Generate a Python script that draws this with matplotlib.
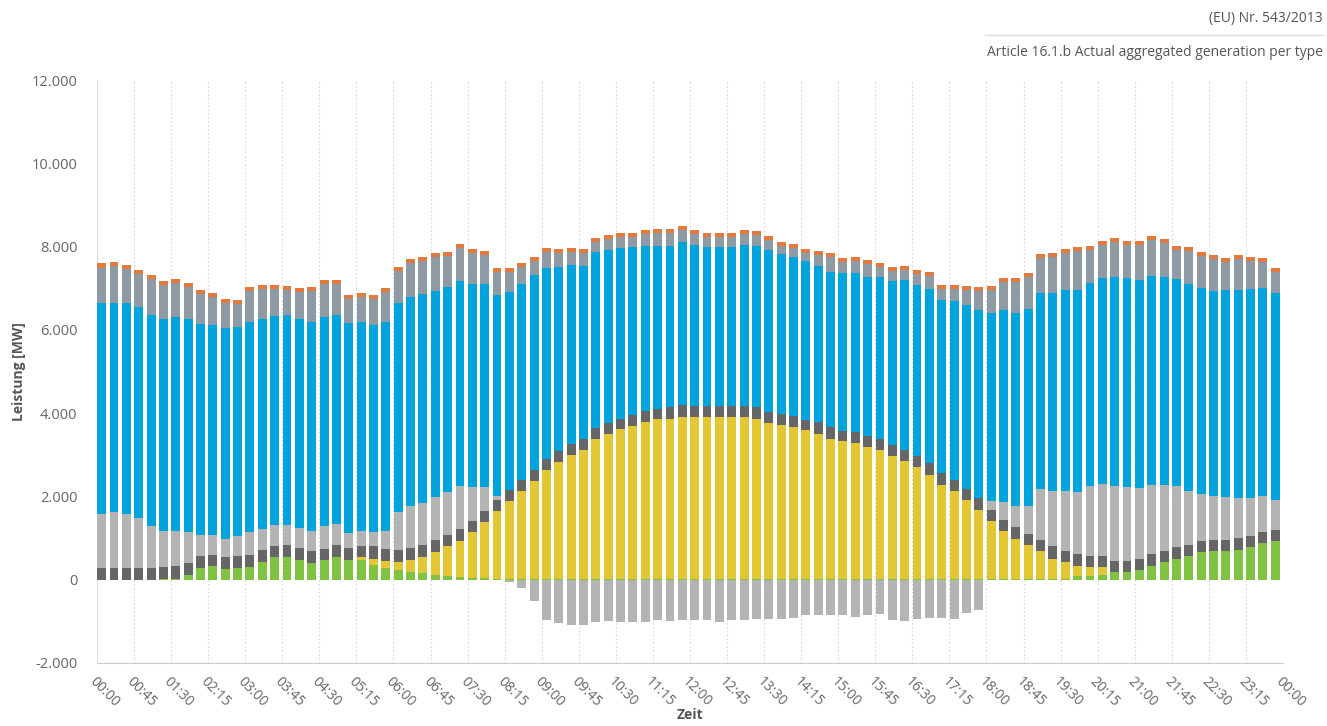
import numpy as np
import matplotlib
matplotlib.use("Agg")
import matplotlib.pyplot as plt
from matplotlib.ticker import FuncFormatter

plt.rcParams['font.family'] = ['Open Sans', 'DejaVu Sans']

# generation per 15 minutes in MW, stacked from bottom to top
green = [0, 0, 0, 0, 0, 16, 24, 120, 272, 320, 256, 272, 304, 416, 536, 536,
         480, 400, 472, 552, 480, 480, 344, 280, 224, 184, 160, 120, 96, 60, 40, 32,
         24, 24, 24, 24, 24, 24, 24, 24, 24, 24, 24, 24, 24, 24, 24, 24,
         24, 24, 24, 24, 24, 24, 24, 24, 24, 24, 24, 24, 24, 24, 24, 24,
         24, 24, 24, 24, 24, 24, 24, 24, 24, 24, 24, 24, 24, 24, 24, 80,
         96, 120, 176, 176, 224, 336, 416, 504, 560, 656, 680, 696, 720, 776, 880, 920]
yellow = [0, 0, 0, 0, 0, 0, 0, 0, 0, 0, 0, 0, 0, 0, 0, 0,
          0, 0, 0, 0, 0, 56, 160, 176, 200, 296, 384, 544, 704, 876, 1096, 1352,
          1616, 1876, 2096, 2346, 2600, 2796, 2976, 3086, 3346, 3486, 3596, 3656, 3766, 3826, 3846, 3886,
          3876, 3876, 3876, 3876, 3876, 3836, 3736, 3680, 3632, 3560, 3480, 3360, 3296, 3256, 3152, 3096,
          2952, 2832, 2672, 2496, 2256, 2096, 1896, 1656, 1376, 1136, 960, 800, 656, 480, 392, 256,
          208, 184, 0, 0, 0, 0, 0, 0, 0, 0, 0, 0, 0, 0, 0, 0]
dark = [280, 280, 280, 280, 280, 288, 296, 280, 288, 280, 280, 288, 280, 288, 280, 288,
        280, 280, 272, 276, 280, 280, 296, 280, 280, 280, 280, 296, 272, 280, 264, 272,
        280, 260, 280, 270, 272, 260, 264, 270, 270, 260, 250, 280, 260, 260, 270, 274,
        260, 260, 260, 260, 260, 276, 270, 280, 280, 240, 272, 272, 256, 256, 280, 256,
        264, 264, 264, 280, 280, 280, 264, 280, 280, 280, 272, 280, 280, 296, 264, 288,
        272, 272, 280, 280, 280, 280, 264, 272, 280, 280, 280, 264, 280, 280, 264, 280]
light = [1296, 1344, 1296, 1200, 1016, 872, 856, 744, 520, 464, 448, 480, 560, 520, 488, 496,
         480, 496, 536, 516, 360, 360, 352, 424, 920, 1016, 1016, 1020, 1028, 1044, 832, 576,
         80, 0, 0, 0, 0, 0, 0, 0, 0, 0, 0, 0, 0, 0, 0, 0,
         0, 0, 0, 0, 0, 0, 0, 0, 0, 0, 0, 0, 0, 0, 0, 0,
         0, 0, 0, 0, 0, 0, 0, 0, 216, 416, 504, 672, 1216, 1320, 1456, 1480,
         1664, 1720, 1784, 1768, 1696, 1664, 1600, 1480, 1296, 1120, 1040, 1016, 960, 904, 856, 704]
blue = [5080, 5032, 5080, 5064, 5064, 5080, 5144, 5112, 5056, 5056, 5072, 5040, 5056, 5032, 5040, 5040,
        5016, 5024, 5040, 5016, 5040, 5024, 4968, 5040, 5016, 5008, 5024, 4956, 4940, 4916, 4864, 4864,
        4840, 4744, 4704, 4680, 4600, 4440, 4296, 4164, 4224, 4150, 4090, 4024, 3966, 3914, 3884, 3936,
        3880, 3840, 3840, 3840, 3880, 3888, 3890, 3832, 3808, 3832, 3760, 3744, 3784, 3824, 3808, 3888,
        3944, 4080, 4120, 4176, 4160, 4304, 4416, 4520, 4504, 4624, 4640, 4720, 4720, 4776, 4824, 4856,
        4896, 4944, 5040, 5016, 5000, 5016, 5000, 4960, 4968, 4944, 4944, 4984, 5000, 5016, 5016, 4992]
slate = [828, 868, 812, 796, 860, 820, 796, 780, 724, 660, 580, 540, 740, 724, 636, 604,
         652, 740, 772, 732, 580, 596, 620, 708, 764, 820, 796, 804, 740, 780, 740, 700,
         556, 492, 396, 340, 364, 316, 316, 292, 236, 260, 260, 252, 284, 292, 292, 284,
         260, 236, 236, 236, 260, 252, 236, 204, 220, 188, 268, 340, 260, 300, 316, 236,
         236, 236, 260, 324, 260, 276, 356, 460, 556, 660, 756, 764, 820, 844, 876, 940,
         780, 804, 820, 804, 844, 868, 804, 708, 796, 780, 756, 660, 740, 684, 604, 500]
orange = [110, 110, 100, 100, 100, 100, 110, 100, 100, 100, 100, 100, 100, 100, 100, 100,
          100, 100, 100, 100, 100, 100, 100, 100, 100, 100, 100, 100, 100, 100, 100, 100,
          100, 100, 100, 100, 100, 100, 100, 100, 100, 100, 100, 100, 100, 100, 100, 100,
          100, 100, 100, 100, 100, 100, 100, 100, 100, 100, 100, 100, 100, 100, 100, 100,
          100, 100, 100, 100, 100, 100, 100, 100, 100, 100, 100, 100, 100, 100, 100, 100,
          100, 100, 100, 100, 100, 100, 100, 100, 100, 100, 100, 100, 100, 100, 100, 100]
# consumption (negative), 08:15 - 17:45
neg = [0] * 33 + [-60, -200, -520, -976, -1040, -1080, -1080, -1024, -1000, -1024, -1016, -1016,
                  -960, -1000, -960, -960, -976, -1016, -976, -976, -944, -944, -944, -920, -840,
                  -840, -840, -856, -896, -856, -824, -960, -984, -944, -920, -920, -936, -800,
                  -736] + [0] * 24

tick_labels = ["%02d:%02d" % divmod((i * 45) % 1440, 60) for i in range(33)]

series = [green, yellow, dark, light, blue, slate, orange]
colors = ['#80c342', '#e2c634', '#666666', '#b4b4b4', '#00a3dc', '#8f9ba4', '#e2793f']

fig = plt.figure(figsize=(13.27, 7.26), dpi=100)
ax = fig.add_axes([0.0731, 0.0868, 0.8937, 0.803])

x = np.arange(96) + 0.02
bottom = np.zeros(96)
for vals, c in zip(series, colors):
    ax.bar(x, vals, width=0.72, bottom=bottom, color=c, align='edge', linewidth=0, zorder=3)
    bottom += np.array(vals)
ax.bar(x, neg, width=0.72, color='#b4b4b4', align='edge', linewidth=0, zorder=3)

ax.set_xlim(0, 96)
ax.set_ylim(-2000, 12000)
ax.set_yticks(range(-2000, 12001, 2000))
ax.yaxis.set_major_formatter(FuncFormatter(lambda v, p: f"{v:,.0f}".replace(",", ".")))
ax.set_xticks(range(0, 97, 3))
ax.set_xticklabels(tick_labels, rotation=-45, ha='left', va='top', rotation_mode='anchor')

for t in range(3, 97, 3):
    ax.axvline(t, color='#d8d8d8', lw=0.8, ls=(0, (1.5, 2)), zorder=1)
ax.axvline(0, color='#dddddd', lw=1, zorder=1)

for s in ['top', 'right', 'left']:
    ax.spines[s].set_visible(False)
ax.spines['bottom'].set_color('#cccccc')
ax.tick_params(axis='y', length=0, labelsize=10.5, labelcolor='#666666', pad=14)
ax.tick_params(axis='x', length=0, labelsize=10, labelcolor='#666666', pad=8)

ax.set_ylabel("Leistung [MW]", fontsize=10, color='#555555', fontweight='bold', labelpad=4)
fig.text(0.52, 0.015, "Zeit", ha='center', va='center', fontsize=10, color='#555555',
         fontweight='bold')

fig.text(0.9967, 0.975, "(EU) Nr. 543/2013", ha='right', va='center', fontsize=10, color='#555555')
fig.add_artist(plt.Line2D([0.742, 0.997], [0.952, 0.952], color='#dddddd', lw=1))
fig.text(0.9967, 0.927, "Article 16.1.b Actual aggregated generation per type", ha='right', va='center',
         fontsize=10, color='#555555')

fig.savefig("out.png", dpi=100)
